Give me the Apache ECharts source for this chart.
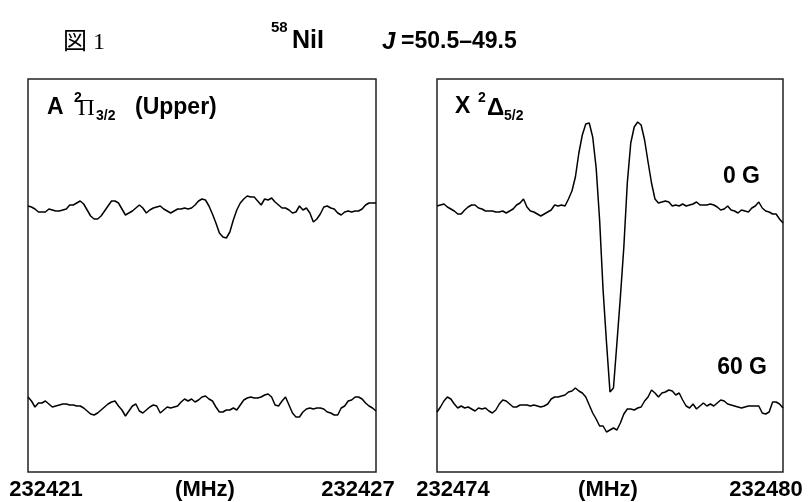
<!DOCTYPE html>
<html>
<head>
<meta charset="utf-8">
<script src="https://cdn.jsdelivr.net/npm/echarts@6/dist/echarts.min.js"></script>
<style>html,body{margin:0;padding:0;background:#fff}#c{width:808px;height:502px}</style>
</head>
<body>
<div id="c"></div>
<script>
// Frequency ranges (MHz) of the two panels
const rangeA = [232421, 232427];
const rangeB = [232474, 232480];
const freqStep = 0.06;
const axisUnit = '(MHz)';
const fieldLabels = ['0 G', '60 G'];

// A 2Π3/2 (Upper) state, 0 G (upper) and 60 G (lower) traces
const aUpper = [266,265,263,260,260,260,263,262,261,261,
262,263,267,267,269,271,268,262,256,253,
253,256,261,266,271,271,269,263,257,259,
261,264,267,264,259,262,264,265,266,263,
261,259,261,263,263,264,263,264,267,271,
273,272,266,258,249,239,235,234,240,252,
262,269,273,276,275,275,271,267,273,272,
274,270,267,264,264,262,259,260,266,262,
264,259,250,253,258,265,266,264,263,259,
257,260,261,260,261,261,263,267,269,269,
269];
const aLower = [75,71,65,69,69,71,68,65,66,67,
68,68,67,67,66,66,64,61,58,57,
59,62,65,68,70,71,66,62,56,61,
66,68,61,59,62,65,67,66,59,62,
65,64,65,66,70,73,71,73,70,72,
75,76,73,71,65,60,60,62,62,64,
62,67,72,74,75,74,74,75,77,78,
75,67,66,71,75,67,59,55,55,60,
63,64,63,64,64,63,60,59,57,57,
64,66,71,72,75,75,73,69,66,64,
61];
// X 2Δ5/2 state
const bUpper = [266,267,268,265,263,261,258,258,262,265,
267,267,264,263,261,261,261,260,260,261,
259,261,263,267,269,273,265,261,260,258,
256,258,260,262,267,266,267,266,273,281,
295,319,337,348,349,335,304,252,182,129,
80,84,129,175,225,289,329,345,350,347,
332,310,289,273,269,270,271,270,266,267,
266,268,266,267,268,270,267,267,267,268,
267,265,262,263,266,262,261,259,262,261,
260,264,266,270,264,261,260,258,258,253,
249];
const bLower = [60,65,71,75,73,68,64,66,64,65,
63,61,64,63,64,61,59,62,68,72,
71,68,65,65,67,67,67,66,67,66,
65,66,68,73,75,75,76,77,80,81,
84,81,79,75,67,59,53,46,46,40,
42,44,42,49,58,63,63,62,64,65,
71,75,82,79,75,79,80,82,81,77,
79,72,66,64,68,63,66,69,66,68,
66,69,72,71,68,67,66,65,64,65,
66,66,66,66,59,58,60,70,70,68,
64];

function pairs(start, vals) { return vals.map((v, i) => [start + i * freqStep, v]); }

const chart = echarts.init(document.getElementById('c'), null, {renderer: 'canvas'});
const SANS = 'Liberation Sans, Arial, sans-serif';
const txt = (x, y, text, size, opts) => Object.assign({
  type: 'text', x: x, y: y, silent: true,
  style: Object.assign({text: text, fill: '#000', font: 'bold ' + size + 'px ' + SANS, textAlign: 'left', textVerticalAlign: 'middle'}, (opts && opts.style) || {})
}, opts && opts.el || {});

const gridStyle = {show: true, borderColor: '#222', borderWidth: 1.5, backgroundColor: 'transparent'};
const lineSeries = (idx, data) => ({
  type: 'line', xAxisIndex: idx, yAxisIndex: idx, data: data, showSymbol: false, symbol: 'none',
  lineStyle: {color: '#000', width: 1.5}, clip: false, animation: false
});
const xAx = (idx, r) => ({type: 'value', gridIndex: idx, min: r[0], max: r[1], show: false});
const yAx = (idx) => ({type: 'value', gridIndex: idx, min: 0, max: 393, show: false});

chart.setOption({
  animation: false,
  grid: [
    Object.assign({left: 28, top: 79, width: 348, height: 393}, gridStyle),
    Object.assign({left: 437, top: 79, width: 346, height: 393}, gridStyle)
  ],
  xAxis: [xAx(0, rangeA), xAx(1, rangeB)],
  yAxis: [yAx(0), yAx(1)],
  series: [
    lineSeries(0, pairs(rangeA[0], aUpper)),
    lineSeries(0, pairs(rangeA[0], aLower)),
    lineSeries(1, pairs(rangeB[0], bUpper)),
    lineSeries(1, pairs(rangeB[0], bLower))
  ],
  graphic: [
    {type: 'text', x: 63, y: 43, silent: true, style: {text: '図 1', fill: '#000', font: '24px Liberation Serif, Noto Sans CJK JP, serif', textVerticalAlign: 'middle'}},
    txt(271, 28, '58', 15),
    txt(292, 41, 'NiI', 25),
    txt(382, 42, 'J', 23, {style: {font: 'italic bold 24px ' + SANS}}),
    txt(401, 42, '=50.5\u201349.5', 23),
    // left panel label
    txt(47, 108, 'A', 23),
    txt(74, 98, '2', 14),
    {type: 'text', x: 78, y: 109, silent: true, style: {text: '\u03A0', fill: '#000', font: '23px Liberation Serif, serif', textVerticalAlign: 'middle'}},
    txt(96, 116, '3/2', 14),
    txt(135, 108, '(Upper)', 23),
    // right panel label
    txt(455, 107, 'X', 23),
    txt(478, 98, '2', 14),
    txt(487, 108, '\u0394', 24),
    txt(504, 116, '5/2', 14),
    txt(760, 177, fieldLabels[0], 23, {style: {textAlign: 'right'}}),
    txt(767, 368, fieldLabels[1], 23, {style: {textAlign: 'right'}}),
    // axis labels
    txt(46, 490, String(rangeA[0]), 22, {style: {textAlign: 'center'}}),
    txt(205, 490, axisUnit, 22, {style: {textAlign: 'center'}}),
    txt(358, 490, String(rangeA[1]), 22, {style: {textAlign: 'center'}}),
    txt(453, 490, String(rangeB[0]), 22, {style: {textAlign: 'center'}}),
    txt(608, 490, axisUnit, 22, {style: {textAlign: 'center'}}),
    txt(766, 490, String(rangeB[1]), 22, {style: {textAlign: 'center'}})
  ]
});
</script>
</body>
</html>
